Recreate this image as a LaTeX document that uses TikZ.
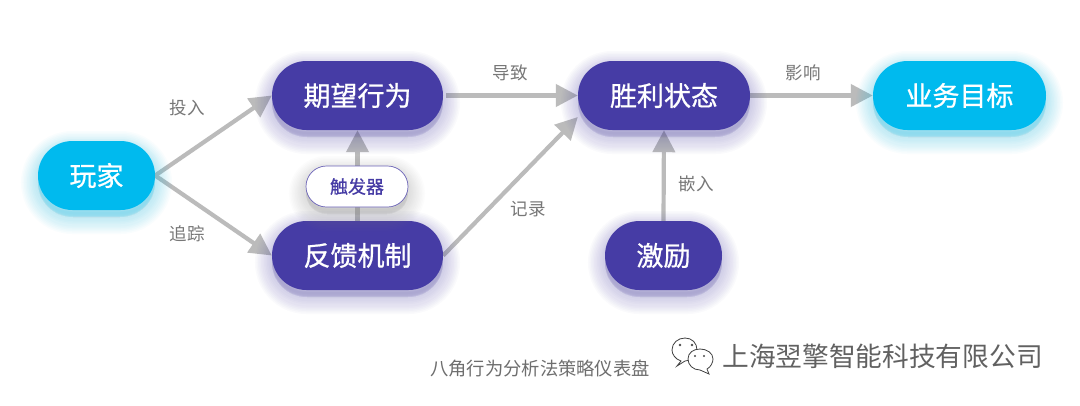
\documentclass[tikz,border=0pt]{standalone}
\usepackage{fontspec}
\setmainfont{Noto Sans CJK SC}
\newfontfamily\boxfont[FakeBold=0.8]{Noto Sans CJK SC}
\usetikzlibrary{shapes.misc,arrows.meta,backgrounds,calc}
\definecolor{violetbox}{HTML}{463CA5}
\definecolor{cyanbox}{HTML}{00BAEE}
\definecolor{arrowgrey}{HTML}{BBBBBB}
\definecolor{labelgrey}{HTML}{777777}
\definecolor{captiongrey}{HTML}{6E6E6E}
\tikzset{
  glowlayer/.style n args={3}{preaction={draw=#1,fill=#1,draw opacity=.022,fill opacity=.022,line width=#2,transform canvas={yshift=#3}}},
  softglow/.style={
    glowlayer={#1}{34pt}{-7pt},
    glowlayer={#1}{31pt}{-7pt},
    glowlayer={#1}{28pt}{-7pt},
    glowlayer={#1}{25pt}{-7pt},
    glowlayer={#1}{22pt}{-7pt},
    glowlayer={#1}{19pt}{-7pt},
    glowlayer={#1}{16pt}{-6pt},
    glowlayer={#1}{13pt}{-6pt},
    glowlayer={#1}{10pt}{-6pt},
    glowlayer={#1}{7pt}{-5pt},
    glowlayer={#1}{4pt}{-4pt}},
  pill/.style={rounded rectangle,inner sep=0pt,minimum height=69pt,text=white,
    font=\boxfont\fontsize{27}{27}\selectfont},
  violetpill/.style={pill,fill=violetbox,softglow=violetbox},
  cyanpill/.style={pill,fill=cyanbox,softglow=cyanbox},
  triggerpill/.style={rounded rectangle,inner sep=0pt,minimum width=102pt,minimum height=41pt,
    draw=violetbox!80,line width=.7pt,fill=white,text=violetbox,
    font=\boxfont\fontsize{18}{18}\selectfont,softglow=black!45},
  flow/.style={draw=arrowgrey,line width=4.2pt,-{Triangle[length=22pt,width=22pt,fill=arrowgrey]}},
  edgelabel/.style={text=labelgrey,inner sep=0pt,font=\fontsize{17.5}{17.5}\selectfont},
  caption/.style={text=captiongrey,inner sep=0pt,font=\fontsize{18.3}{18.3}\selectfont},
  brand/.style={text=black!62,inner sep=0pt,font=\fontsize{26.7}{26.7}\selectfont},
  wechat/.style={draw=black!75,line width=.8pt,fill=white}
}
\begin{document}
\begin{tikzpicture}[x=1pt,y=-1pt]
\useasboundingbox (0,0) rectangle (1080,405);
\node[cyanpill,minimum width=117pt] (player) at (96.5,175.5) {玩家};
\node[violetpill,minimum width=171pt] (expect) at (357.5,95.5) {期望行为};
\node[violetpill,minimum width=171pt] (feedback) at (357.5,255.5) {反馈机制};
\node[violetpill,minimum width=172pt] (win) at (664,95.5) {胜利状态};
\node[cyanpill,minimum width=173pt] (goal) at (959.5,95.5) {业务目标};
\node[violetpill,minimum width=117pt] (reward) at (663.5,255.5) {激励};
\node[triggerpill] (trigger) at (357,186.5) {触发器};
\coordinate (winlow) at ($(win.west)+(0,21.5)$);
\begin{pgfonlayer}{background}
\fill[white] (0,0) rectangle (1080,405);
\draw[flow] (player.east) -- (expect.west);
\draw[flow] (player.east) -- (feedback.west);
\draw[flow] (feedback.north) -- (expect.south);
\draw[flow,shorten <=3pt] (expect.east) -- (win.west);
\draw[flow] (feedback.east) -- (winlow);
\draw[flow] (reward.north) -- (win.south);
\draw[flow] (win.east) -- (goal.west);
\end{pgfonlayer}
\node[edgelabel] (l1) at (187,108) {投入};
\node[edgelabel] (l2) at (187,234) {追踪};
\node[edgelabel] (l3) at (510,73) {导致};
\node[edgelabel] (l4) at (528,209) {记录};
\node[edgelabel] (l5) at (696,184) {嵌入};
\node[edgelabel] (l6) at (803,73) {影响};
\node[caption] (cap) at (540,369) {八角行为分析法策略仪表盘};
\node[brand] (brandname) at (882.5,356) {上海翌擎智能科技有限公司};
\path[wechat] (681,361) .. controls (675,359) and (672,354) .. (672,350)
  .. controls (672,343) and (678,338) .. (685,338)
  .. controls (692,338) and (697,343) .. (697,350)
  .. controls (697,356) and (692,361) .. (685,361)
  -- (677,366) -- cycle;
\path[wechat] (707,369) .. controls (711,367) and (713,362) .. (713,359)
  .. controls (713,353) and (707,349) .. (700,349)
  .. controls (693,349) and (688,353) .. (688,359)
  .. controls (688,365) and (693,370) .. (700,370)
  -- (709,374) -- cycle;
\fill[black!70] (680,345) circle (1.3) (692,345) circle (1.3) (695,356) circle (1.1) (704,356) circle (1.1);
\end{tikzpicture}
\end{document}
